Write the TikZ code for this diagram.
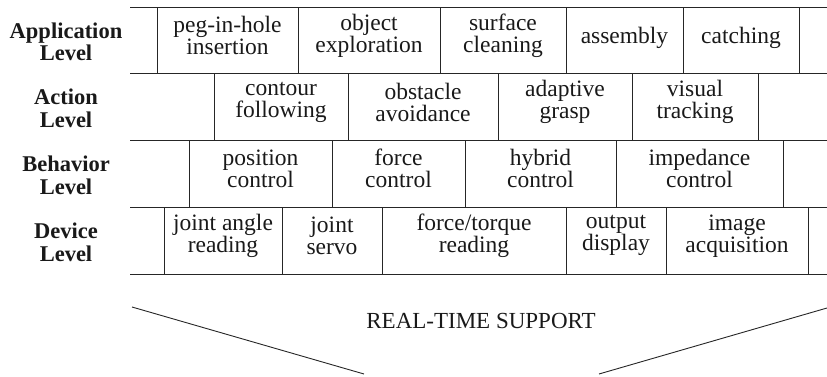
\documentclass[tikz,border=0pt]{standalone}
\usepackage{fontspec}
\setmainfont{Liberation Serif}
\usepackage{tikz}
\usetikzlibrary{positioning}

\tikzset{
  celltext/.style={align=center, inner sep=0pt, font=\fontsize{23.5}{22}\selectfont},
  lvl/.style={align=center, inner sep=0pt, font=\fontsize{22.5}{22.5}\selectfont\bfseries},
  strip/.style={line width=0.9pt, black!85}
}

\begin{document}
\begin{tikzpicture}[x=1pt, y=-1pt, line width=0.9pt, draw=black!85, text=black!90]
  \useasboundingbox (0,0) rectangle (827,377);

  % horizontal strips of the four levels
  \foreach \y in {7,73.5,140,207,274}
    \draw[strip] (130,\y) -- (827,\y);

  % level labels
  \node[lvl] (lapp) at (66,42)     {Application\\Level};
  \node[lvl] (lact) at (66,108.5)  {Action\\Level};
  \node[lvl] (lbeh) at (66,175.25) {Behavior\\Level};
  \node[lvl] (ldev) at (66,242.25) {Device\\Level};

  % application level
  \foreach \a/\b/\n/\y/\t in {157/298/peg/35.5/{peg-in-hole\\insertion},
                              298/440/expl/35.5/{object\\exploration},
                              440/566/clean/35.5/{surface\\cleaning},
                              566/683/assem/38/{assembly},
                              683/799/catch/38/{catching}}
  {
    \draw (\a,7) rectangle (\b,73.5);
    \node[celltext] (\n) at ({(\a+\b)/2},\y) {\t};
  }

  % action level
  \foreach \a/\b/\n/\t in {214/348/cont/{contour\\following},
                           348/498/obst/{obstacle\\avoidance},
                           498/632/grasp/{adaptive\\grasp},
                           632/758/track/{visual\\tracking}}
  {
    \draw (\a,73.5) rectangle (\b,140);
    \node[celltext] (\n) at ({(\a+\b)/2},102) {\t};
  }

  % behavior level
  \foreach \a/\b/\n/\t in {189/332/pos/{position\\control},
                           332/465/force/{force\\control},
                           465/616/hyb/{hybrid\\control},
                           616/783/imp/{impedance\\control}}
  {
    \draw (\a,140) rectangle (\b,207);
    \node[celltext] (\n) at ({(\a+\b)/2},168.75) {\t};
  }

  % device level
  \foreach \a/\b/\n/\t in {164/282/jang/{joint angle\\reading},
                           282/382/jserv/{joint\\servo},
                           382/566/ftr/{force/torque\\reading},
                           566/666/disp/{output\\display},
                           666/808/img/{image\\acquisition}}
  {
    \draw (\a,207) rectangle (\b,274);
    \node[celltext] (\n) at ({(\a+\b)/2},235.75) {\t};
  }

  % real-time support
  \coordinate (l1) at (132,307);
  \coordinate (l2) at (364,374);
  \coordinate (r1) at (599,374);
  \coordinate (r2) at (827,308);
  \draw (l1) -- (l2);
  \draw (r1) -- (r2);
  \node[font=\fontsize{23}{27}\selectfont] (rts) at (481,321) {REAL-TIME SUPPORT};
\end{tikzpicture}
\end{document}
